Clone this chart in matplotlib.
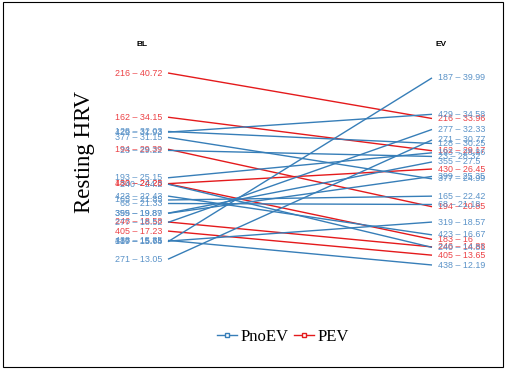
import matplotlib
matplotlib.use("Agg")
import matplotlib.pyplot as plt
from matplotlib.lines import Line2D
from matplotlib.patches import Rectangle

# Resting HRV per subject at baseline (BL) and at EV
subject = [216, 162, 194, 183, 430, 246, 405,
           128, 429, 377, 23, 193, 240, 423, 165, 68, 355, 399, 277, 438, 319, 187, 271]
group = ["PEV"] * 7 + ["PnoEV"] * 16
bl = [40.72, 34.15, 29.39, 24.25, 24.28, 18.58, 17.23,
      32.03, 31.93, 31.15, 29.22, 25.15, 24.20, 22.43, 21.85, 21.33, 19.89, 19.87,
      18.52, 15.85, 15.74, 15.65, 13.05]
ev = [33.96, 29.17, 20.85, 16, 26.45, 14.88, 13.65,
      30.25, 34.58, 24.99, 28.32, 28.86, 14.81, 16.67, 22.42, 21.18, 27.5, 25.35,
      32.33, 12.19, 18.57, 39.99, 30.77]
timepoints = ["BL", "EV"]
groups = ["PnoEV", "PEV"]

colors = {"PnoEV": "#377EB8", "PEV": "#E41A1C"}
label_colors = {"PnoEV": "#5B93C8", "PEV": "#EC4246"}

W, H = 506, 369
fig = plt.figure(figsize=(W / 100, H / 100), dpi=100)
ax = fig.add_axes([168 / W, (H - 265) / H, 264 / W, 192 / H])
ax.set_xlim(0, 1)
ax.set_ylim(min(bl + ev), max(bl + ev))
ax.axis("off")

lab_font = dict(family="Liberation Sans", fontsize=6.4)
for s, g, a, b in zip(subject, group, bl, ev):
    c = colors[g]
    ax.plot([0, 1], [a, b], color=c, lw=1.0, solid_capstyle="butt", clip_on=False)
    ax.annotate(f"{s} \u2013 {a:g}", (0, a), xytext=(-4, 0), textcoords="offset points",
                ha="right", va="center", color=label_colors[g], **lab_font)
    ax.annotate(f"{s} \u2013 {b:g}", (1, b), xytext=(4, 0), textcoords="offset points",
                ha="left", va="center", color=label_colors[g], **lab_font)

# column headers
fig.text(142 / W, 1 - 45 / H, timepoints[0], ha="center", va="center",
         fontsize=6, fontweight="bold", family="Liberation Sans")
fig.text(441 / W, 1 - 45 / H, timepoints[1], ha="center", va="center",
         fontsize=6, fontweight="bold", family="Liberation Sans")

fig.text(85 / W, 1 - 152 / H, "Resting HRV", rotation=90, ha="center", va="center",
         fontsize=16.5, family="Liberation Serif")

handles = [Line2D([0], [0], color=colors[g], lw=1.0, marker="s", markersize=3,
                  markerfacecolor="white", markeredgecolor=colors[g]) for g in groups]
fig.legend(handles, groups, loc="center", bbox_to_anchor=(283 / W, 1 - 337 / H),
           ncol=2, frameon=False, handlelength=1.2, handletextpad=0.2,
           columnspacing=0.3, prop=dict(family="Liberation Serif", size=12))

fig.patches.append(Rectangle((3 / W, 2 / H), 500 / W, 365 / H, transform=fig.transFigure,
                             fill=False, edgecolor="black", lw=0.8))

fig.savefig("out.png", dpi=100)
